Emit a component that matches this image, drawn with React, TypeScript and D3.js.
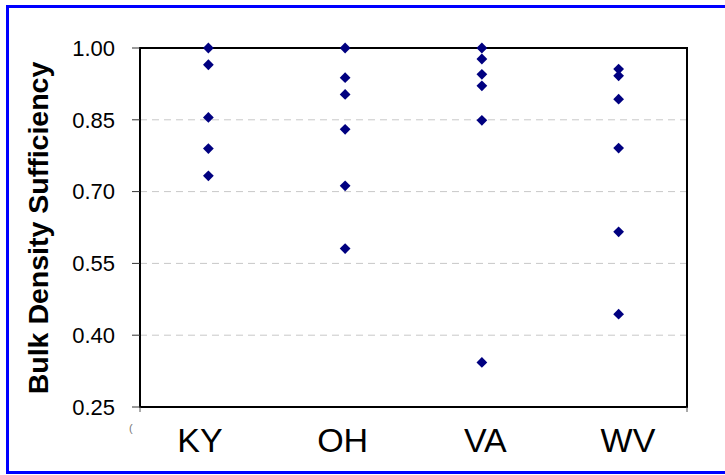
import React from "react";
import * as d3 from "d3";

// State categories and bulk density sufficiency values for each site
const states = ["KY", "OH", "VA", "WV"];
const kyValues = [1.0, 0.965, 0.855, 0.79, 0.733];
const ohValues = [1.0, 0.938, 0.903, 0.83, 0.712, 0.581];
const vaValues = [1.0, 0.977, 0.945, 0.921, 0.849, 0.343];
const wvValues = [0.956, 0.942, 0.893, 0.791, 0.616, 0.444];
const yTicks = [0.25, 0.4, 0.55, 0.7, 0.85, 1.0];
const yTitle = "Bulk Density Sufficiency";

const seriesByState: number[][] = [kyValues, ohValues, vaValues, wvValues];

const W = 725;
const H = 475;
const plot = { left: 140, top: 48, right: 687, bottom: 407 };

export default function App() {
  const x = d3
    .scaleBand<string>()
    .domain(states)
    .range([plot.left, plot.right])
    .paddingInner(0)
    .paddingOuter(0);
  const xLabel = d3.scalePoint<string>().domain(states).range([200, 628]);
  const y = d3.scaleLinear().domain([0.25, 1.0]).range([plot.bottom, plot.top]);

  const diamond = d3.symbol().type(d3.symbolDiamond2).size(74)();

  const points = states.flatMap((s, i) =>
    seriesByState[i].map((v, j) => ({ s, v, key: `${s}-${j}` }))
  );

  return (
    <svg
      width={W}
      height={H}
      style={{ position: "absolute", left: 0, top: 0, background: "#fff" }}
      fontFamily="'Liberation Sans', Arial, sans-serif"
    >
      <rect x={0} y={0} width={W} height={H} fill="#fff" />
      {/* outer chart border */}
      <rect x={7.5} y={6.5} width={740} height={466} fill="none" stroke="#0000ff" strokeWidth={3} />

      {/* horizontal dashed gridlines */}
      {yTicks
        .filter((t) => t > 0.25 && t < 1.0)
        .map((t) => (
          <line
            key={`g${t}`}
            x1={plot.left}
            x2={plot.right}
            y1={y(t)}
            y2={y(t)}
            stroke="#c8c8c8"
            strokeWidth={1}
            strokeDasharray="7,5"
          />
        ))}

      {/* plot frame */}
      <rect
        x={plot.left}
        y={plot.top}
        width={plot.right - plot.left}
        height={plot.bottom - plot.top}
        fill="none"
        stroke="#000"
        strokeWidth={2}
      />

      {/* y axis ticks and labels */}
      {yTicks.map((t) => (
        <g key={`t${t}`}>
          <line x1={132} x2={plot.left} y1={y(t)} y2={y(t)} stroke="#333" strokeWidth={1} />
          <text x={115} y={y(t) + 7.8} fontSize={22} textAnchor="end" fill="#000">
            {t.toFixed(2)}
          </text>
        </g>
      ))}

      {/* category axis end ticks */}
      {[plot.left, plot.right].map((px) => (
        <line key={`xt${px}`} x1={px} x2={px} y1={plot.bottom} y2={plot.bottom + 5} stroke="#555" strokeWidth={1} />
      ))}
      <text x={129} y={432} fontSize={11} fill="#777">
        (
      </text>

      {/* category labels */}
      {states.map((s) => (
        <text key={`l${s}`} x={xLabel(s)} y={452} fontSize={34} textAnchor="middle" fill="#000">
          {s}
        </text>
      ))}

      {/* y axis title */}
      <text
        transform={`translate(48, ${228}) rotate(-90)`}
        fontSize={28.5}
        fontWeight="bold"
        textAnchor="middle"
        fill="#000"
      >
        {yTitle}
      </text>

      {/* data markers */}
      {points.map((p) => (
        <path
          key={p.key}
          d={diamond || ""}
          transform={`translate(${(x(p.s) as number) + x.bandwidth() / 2}, ${y(p.v)})`}
          fill="#000080"
        />
      ))}
    </svg>
  );
}
